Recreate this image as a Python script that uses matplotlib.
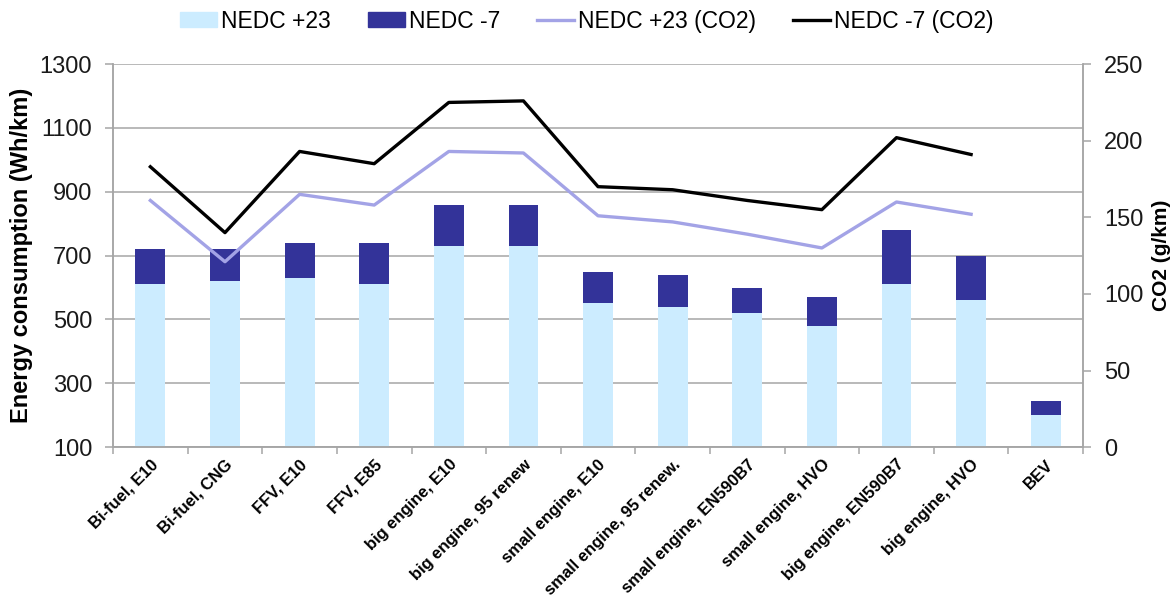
import numpy as np
import matplotlib.pyplot as plt
from matplotlib.lines import Line2D
from matplotlib.patches import Patch

plt.rcParams["font.family"] = ["Liberation Sans", "DejaVu Sans"]

# Дані
categories = [
    "Bi-fuel, E10", "Bi-fuel, CNG", "FFV, E10", "FFV, E85",
    "big engine, E10", "big engine, 95 renew", "small engine, E10",
    "small engine, 95 renew.", "small engine, EN590B7", "small engine, HVO",
    "big engine, EN590B7", "big engine, HVO", "BEV",
]
nedc_p23 = [610, 620, 630, 610, 730, 730, 550, 540, 520, 480, 610, 560, 200]
nedc_m7 = [720, 720, 740, 740, 860, 860, 650, 640, 600, 570, 780, 700, 245]
co2_p23 = [161, 121, 165, 158, 193, 192, 151, 147, 139, 130, 160, 152, np.nan]
co2_m7 = [183, 140, 193, 185, 225, 226, 170, 168, 161, 155, 202, 191, np.nan]

light = "#CCECFF"
dark = "#333399"
purple = "#A3A3E6"
grey = "#A6A6A6"

fig = plt.figure(figsize=(11.74, 6.05), dpi=100)
ax = fig.add_axes([0.0963, 0.261, 0.8262, 0.633])
ax2 = ax.twinx()

x = np.arange(len(categories))
low = np.array(nedc_p23)
high = np.array(nedc_m7)

ax.bar(x, low, width=0.4, color=light, zorder=2)
ax.bar(x, high - low, bottom=low, width=0.4, color=dark, zorder=2)

ax2.plot(x, co2_p23, color=purple, linewidth=2.4)
ax2.plot(x, co2_m7, color="black", linewidth=2.4)

# Осі
ax.set_xlim(-0.5, len(categories) - 0.5)
ax.set_ylim(100, 1300)
ax.set_yticks(range(100, 1301, 200))
ax2.set_ylim(0, 250)
ax2.set_yticks(range(0, 251, 50))

ax.grid(axis="y", color=grey, linewidth=1.1)
ax.set_axisbelow(True)

for a in (ax, ax2):
    a.spines["top"].set_visible(False)
    for s in ("left", "right", "bottom"):
        a.spines[s].set_color(grey)
        a.spines[s].set_linewidth(1.1)
    a.tick_params(axis="y", colors=grey, labelcolor="#1a1a1a",
                  labelsize=17, length=6, width=1.1, pad=9)

ax.set_xticks(x)
ax.set_xticklabels(categories, rotation=45, ha="right",
                   rotation_mode="anchor", fontsize=12, fontweight="bold")
ax.tick_params(axis="x", which="major", length=0, pad=7)
ax.set_xticks(np.arange(-0.5, len(categories), 1), minor=True)
ax.tick_params(axis="x", which="minor", length=5, color=grey, width=1.1)

ax.set_ylabel("Energy consumption (Wh/km)", fontsize=17,
              fontweight="bold", labelpad=5)
ax2.set_ylabel("CO2 (g/km)", fontsize=15, fontweight="bold", labelpad=6)

handles = [
    Patch(color=light, label="NEDC +23"),
    Patch(color=dark, label="NEDC -7"),
    Line2D([], [], color=purple, linewidth=2.4, label="NEDC +23 (CO2)"),
    Line2D([], [], color="black", linewidth=2.4, label="NEDC -7 (CO2)"),
]
fig.legend(handles=handles, loc="center", bbox_to_anchor=(0.5, 0.965),
           ncol=4, frameon=False, fontsize=16.5, handlelength=1.6,
           handleheight=0.6, handletextpad=0.2, columnspacing=1.6)

fig.savefig("out.png", dpi=100)
